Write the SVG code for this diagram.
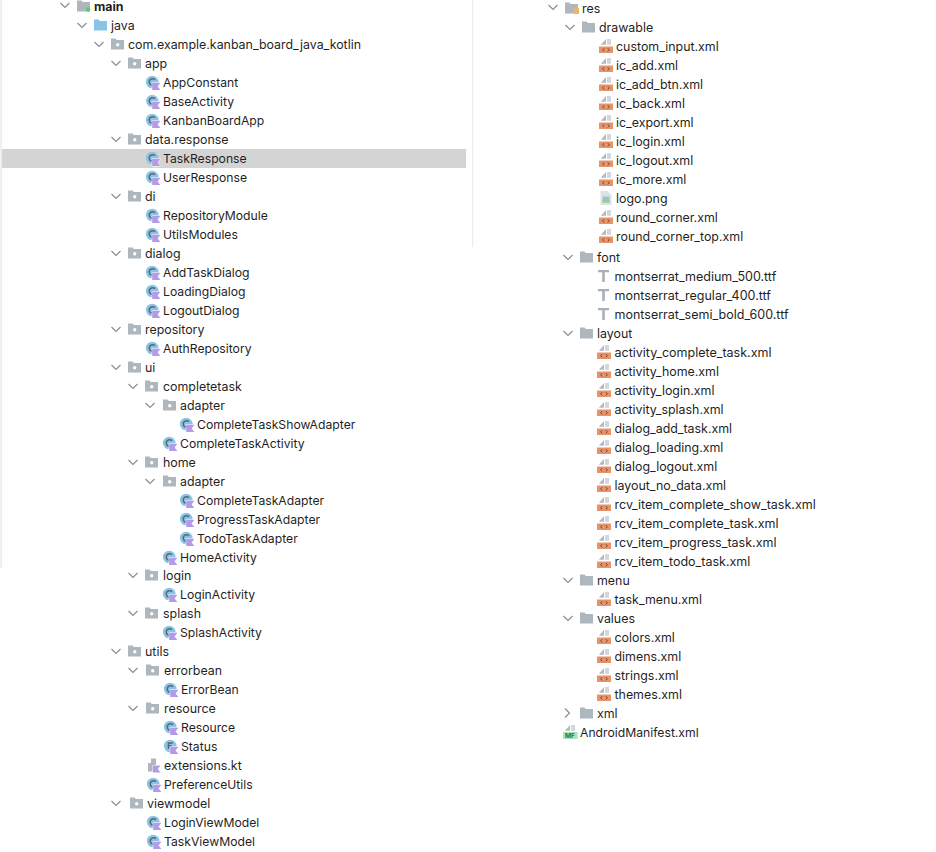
<svg xmlns="http://www.w3.org/2000/svg" width="936" height="852" viewBox="0 0 936 852">
<style>
text{font-family:"Inter","Liberation Sans",sans-serif;font-size:12.4px;fill:#1f1f1f;dominant-baseline:central}
.b{font-weight:700}
.c{font-size:12.2px}
.s{font-size:12.5px}
.mf{font-size:6.5px;font-weight:700;fill:#3c6b4a}
.ch{fill:none;stroke:#868a90;stroke-width:1.1}
</style>
<defs>
<g id="pkg"><path d="M0 -5.5h4.5l1.3 1.5h7.2v9.5h-13z" fill="#aeb6be"/><circle cx="6.7" cy="0.8" r="1.7" fill="#fff"/></g>
<g id="dir"><path d="M0 -5.5h4.5l1.3 1.5h7.2v9.5h-13z" fill="#aeb6be"/></g>
<g id="blue"><path d="M0 -5.5h4.5l1.3 1.5h7.2v9.5h-13z" fill="#89c4e6"/></g>
<g id="k"><path d="M6.2 8V0.8H14.4L11.6 4.4L14.4 8z" fill="#b49bea" stroke="#fff" stroke-width="1" paint-order="stroke"/></g>
<g id="cls"><circle cx="6.2" cy="0" r="6.3" fill="#86c5e8"/><path d="M9 -2.2A3.3 3.3 0 1 0 9 2.2" fill="none" stroke="#5f6670" stroke-width="1.5"/><use href="#k"/></g>
<g id="abs"><circle cx="6.2" cy="0" r="6.3" fill="#86c5e8" stroke="#fff" stroke-dasharray="2 1.5" stroke-width=".8"/><path d="M9 -2.2A3.3 3.3 0 1 0 9 2.2" fill="none" stroke="#5f6670" stroke-width="1.5"/><use href="#k"/></g>
<g id="enu"><circle cx="6.2" cy="0" r="6.3" fill="#86c5e8"/><path d="M9 -3H4.5V3M4.5 0H8" fill="none" stroke="#5f6670" stroke-width="1.5"/><use href="#k"/></g>
<g id="kt"><path d="M1 6.5V-2H4V-6.5H9V6.5z" fill="#aeb6be"/><path d="M6 7.5V0.5H13.5L10.8 4L13.5 7.5z" fill="#b49bea" stroke="#fff" stroke-width="1" paint-order="stroke"/></g>
<g id="xml"><path d="M7 -7V-1.2H1.8z" fill="#b4b9bf"/><rect x="8" y="-7" width="4" height="5.8" fill="#d3d6da"/><rect x="0" y="0.5" width="14" height="6.5" fill="#e8946a"/><path d="M5.2 2.2L3.6 3.8L5.2 5.4M8.8 2.2L10.4 3.8L8.8 5.4" fill="none" stroke="#6a4330" stroke-width="1"/></g>
<g id="png"><path d="M1.5 -7H8.5L12.5 -3V7H1.5z" fill="#dde2e6"/><rect x="3.5" y="-1.5" width="7" height="6" fill="#8fc7d8"/><rect x="3.5" y="2" width="7" height="2.5" fill="#a8c98a"/></g>
<g id="ttf"><path d="M1 -6H12V-3.8H7.8V6H5.2V-3.8H1z" fill="#a9afb6"/></g>
<g id="mfi"><path d="M7 -7V-1.2H1.8z" fill="#b4b9bf"/><rect x="8" y="-7" width="4" height="5.8" fill="#d3d6da"/><rect x="0" y="0" width="14.5" height="7" fill="#a5e8b4"/></g>
<path id="dn" class="ch" d="M-4.5 -2L0 2.5L4.5 -2"/>
<path id="rt" class="ch" d="M-2 -4.5L2.5 0L-2 4.5"/>
</defs>
<g id="backdrop">
<rect x="0" y="0" width="936" height="852" fill="#fff"/>
<rect x="0.5" y="0" width="1.2" height="568" fill="#e4e4e4"/>
<rect x="472" y="0" width="1.2" height="247" fill="#ececec"/>
<rect x="2" y="149" width="464" height="19" fill="#d4d4d4"/>
</g>
<g id="connectors"></g>
<g id="n-main"><use href="#dn" x="65" y="5"/><use href="#dir" x="77" y="6"/><circle cx="88" cy="9.5" r="2.3" fill="#5fc878"/><text class="b" x="94" y="6">main</text></g>
<g id="n-java"><use href="#dn" x="82" y="25"/><use href="#blue" x="94" y="25"/><text x="111" y="25">java</text></g>
<g id="n-com"><use href="#dn" x="99" y="44"/><use href="#pkg" x="111" y="44"/><text x="128" y="44">com.example.kanban_board_java_kotlin</text></g>
<g id="n-app"><use href="#dn" x="116" y="63"/><use href="#pkg" x="128" y="63"/><text x="145" y="63">app</text></g>
<g id="n-appconstant"><use href="#cls" x="146" y="82"/><text class="c" x="163" y="82">AppConstant</text></g>
<g id="n-baseactivity"><use href="#abs" x="146" y="101"/><text class="c" x="163" y="101">BaseActivity</text></g>
<g id="n-kanbanboardapp"><use href="#cls" x="146" y="120"/><text class="c" x="163" y="120">KanbanBoardApp</text></g>
<g id="n-dataresponse"><use href="#dn" x="116" y="139"/><use href="#pkg" x="128" y="139"/><text x="145" y="139">data.response</text></g>
<g id="n-taskresponse"><use href="#cls" x="146" y="158"/><text class="c" x="163" y="158">TaskResponse</text></g>
<g id="n-userresponse"><use href="#cls" x="146" y="177"/><text class="c" x="163" y="177">UserResponse</text></g>
<g id="n-di"><use href="#dn" x="116" y="196"/><use href="#pkg" x="128" y="196"/><text x="145" y="196">di</text></g>
<g id="n-repositorymodule"><use href="#cls" x="146" y="215"/><text class="c" x="163" y="215">RepositoryModule</text></g>
<g id="n-utilsmodules"><use href="#cls" x="146" y="234"/><text class="c" x="163" y="234">UtilsModules</text></g>
<g id="n-dialog"><use href="#dn" x="116" y="253"/><use href="#pkg" x="128" y="253"/><text x="145" y="253">dialog</text></g>
<g id="n-addtaskdialog"><use href="#cls" x="146" y="272"/><text class="c" x="163" y="272">AddTaskDialog</text></g>
<g id="n-loadingdialog"><use href="#cls" x="146" y="291"/><text class="c" x="163" y="291">LoadingDialog</text></g>
<g id="n-logoutdialog"><use href="#cls" x="146" y="310"/><text class="c" x="163" y="310">LogoutDialog</text></g>
<g id="n-repository"><use href="#dn" x="116" y="329"/><use href="#pkg" x="128" y="329"/><text x="145" y="329">repository</text></g>
<g id="n-authrepository"><use href="#cls" x="146" y="348"/><text class="c" x="163" y="348">AuthRepository</text></g>
<g id="n-ui"><use href="#dn" x="116" y="367"/><use href="#pkg" x="128" y="367"/><text x="145" y="367">ui</text></g>
<g id="n-completetask"><use href="#dn" x="133" y="386"/><use href="#pkg" x="145" y="386"/><text x="163" y="386">completetask</text></g>
<g id="n-adapter1"><use href="#dn" x="150" y="405"/><use href="#pkg" x="163" y="405"/><text x="180" y="405">adapter</text></g>
<g id="n-completetaskshowadapter"><use href="#cls" x="180" y="424"/><text class="c" x="197" y="424">CompleteTaskShowAdapter</text></g>
<g id="n-completetaskactivity"><use href="#cls" x="163" y="443"/><text class="c" x="180" y="443">CompleteTaskActivity</text></g>
<g id="n-home"><use href="#dn" x="133" y="462"/><use href="#pkg" x="145" y="462"/><text x="163" y="462">home</text></g>
<g id="n-adapter2"><use href="#dn" x="150" y="481"/><use href="#pkg" x="163" y="481"/><text x="180" y="481">adapter</text></g>
<g id="n-completetaskadapter"><use href="#cls" x="180" y="500"/><text class="c" x="197" y="500">CompleteTaskAdapter</text></g>
<g id="n-progresstaskadapter"><use href="#cls" x="180" y="519"/><text class="c" x="197" y="519">ProgressTaskAdapter</text></g>
<g id="n-todotaskadapter"><use href="#cls" x="180" y="538"/><text class="c" x="197" y="538">TodoTaskAdapter</text></g>
<g id="n-homeactivity"><use href="#cls" x="163" y="557"/><text class="c" x="180" y="557">HomeActivity</text></g>
<g id="n-login"><use href="#dn" x="133" y="575"/><use href="#pkg" x="145" y="575"/><text x="163" y="575">login</text></g>
<g id="n-loginactivity"><use href="#cls" x="163" y="594"/><text class="c" x="180" y="594">LoginActivity</text></g>
<g id="n-splash"><use href="#dn" x="133" y="613"/><use href="#pkg" x="145" y="613"/><text x="163" y="613">splash</text></g>
<g id="n-splashactivity"><use href="#cls" x="163" y="632"/><text class="c" x="180" y="632">SplashActivity</text></g>
<g id="n-utils"><use href="#dn" x="116" y="651"/><use href="#pkg" x="128" y="651"/><text x="145" y="651">utils</text></g>
<g id="n-errorbean"><use href="#dn" x="133" y="670"/><use href="#pkg" x="146" y="670"/><text x="164" y="670">errorbean</text></g>
<g id="n-errorbeanclass"><use href="#cls" x="164" y="689"/><text class="c" x="181" y="689">ErrorBean</text></g>
<g id="n-resource"><use href="#dn" x="133" y="708"/><use href="#pkg" x="146" y="708"/><text x="164" y="708">resource</text></g>
<g id="n-resourceclass"><use href="#cls" x="164" y="727"/><text class="c" x="181" y="727">Resource</text></g>
<g id="n-status"><use href="#enu" x="164" y="746"/><text class="c" x="181" y="746">Status</text></g>
<g id="n-extensions"><use href="#kt" x="147" y="765"/><text x="164" y="765">extensions.kt</text></g>
<g id="n-preferenceutils"><use href="#cls" x="147" y="784"/><text class="c" x="164" y="784">PreferenceUtils</text></g>
<g id="n-viewmodel"><use href="#dn" x="116" y="803"/><use href="#pkg" x="130" y="803"/><text x="147" y="803">viewmodel</text></g>
<g id="n-loginviewmodel"><use href="#cls" x="147" y="822"/><text class="c" x="164" y="822">LoginViewModel</text></g>
<g id="n-taskviewmodel"><use href="#cls" x="147" y="841"/><text class="c" x="164" y="841">TaskViewModel</text></g>
<g id="n-res"><use href="#dn" x="553" y="7"/><use href="#dir" x="565" y="8"/><rect x="574" y="8" width="5" height="6" fill="#e9b76b"/><text x="582" y="8">res</text></g>
<g id="n-drawable"><use href="#dn" x="570" y="27"/><use href="#dir" x="582" y="27"/><text x="599" y="27">drawable</text></g>
<g id="n-custom_input"><use href="#xml" x="599" y="46"/><text x="616" y="46">custom_input.xml</text></g>
<g id="n-ic_add"><use href="#xml" x="599" y="65"/><text x="616" y="65">ic_add.xml</text></g>
<g id="n-ic_add_btn"><use href="#xml" x="599" y="84"/><text x="616" y="84">ic_add_btn.xml</text></g>
<g id="n-ic_back"><use href="#xml" x="599" y="103"/><text x="616" y="103">ic_back.xml</text></g>
<g id="n-ic_export"><use href="#xml" x="599" y="122"/><text x="616" y="122">ic_export.xml</text></g>
<g id="n-ic_login"><use href="#xml" x="599" y="141"/><text x="616" y="141">ic_login.xml</text></g>
<g id="n-ic_logout"><use href="#xml" x="599" y="160"/><text x="616" y="160">ic_logout.xml</text></g>
<g id="n-ic_more"><use href="#xml" x="599" y="179"/><text x="616" y="179">ic_more.xml</text></g>
<g id="n-logo"><use href="#png" x="599" y="198"/><text x="616" y="198">logo.png</text></g>
<g id="n-round_corner"><use href="#xml" x="599" y="217"/><text x="616" y="217">round_corner.xml</text></g>
<g id="n-round_corner_top"><use href="#xml" x="599" y="236"/><text x="616" y="236">round_corner_top.xml</text></g>
<g id="n-font"><use href="#dn" x="568" y="257"/><use href="#dir" x="580" y="257"/><text x="597" y="257">font</text></g>
<g id="n-mont_medium"><use href="#ttf" x="597" y="276"/><text class="s" x="614.500" y="276">montserrat_medium_500.ttf</text></g>
<g id="n-mont_regular"><use href="#ttf" x="597" y="295"/><text class="s" x="614.500" y="295">montserrat_regular_400.ttf</text></g>
<g id="n-mont_semi"><use href="#ttf" x="597" y="314"/><text class="s" x="614.500" y="314">montserrat_semi_bold_600.ttf</text></g>
<g id="n-layout"><use href="#dn" x="568" y="333"/><use href="#dir" x="580" y="333"/><text x="597" y="333">layout</text></g>
<g id="n-activity_complete_task"><use href="#xml" x="597" y="352"/><text class="s" x="614.500" y="352">activity_complete_task.xml</text></g>
<g id="n-activity_home"><use href="#xml" x="597" y="371"/><text x="614.500" y="371">activity_home.xml</text></g>
<g id="n-activity_login"><use href="#xml" x="597" y="390"/><text x="614.500" y="390">activity_login.xml</text></g>
<g id="n-activity_splash"><use href="#xml" x="597" y="409"/><text x="614.500" y="409">activity_splash.xml</text></g>
<g id="n-dialog_add_task"><use href="#xml" x="597" y="428"/><text x="614.500" y="428">dialog_add_task.xml</text></g>
<g id="n-dialog_loading"><use href="#xml" x="597" y="447"/><text x="614.500" y="447">dialog_loading.xml</text></g>
<g id="n-dialog_logout"><use href="#xml" x="597" y="466"/><text x="614.500" y="466">dialog_logout.xml</text></g>
<g id="n-layout_no_data"><use href="#xml" x="597" y="485"/><text x="614.500" y="485">layout_no_data.xml</text></g>
<g id="n-rcv_complete_show"><use href="#xml" x="597" y="504"/><text class="s" x="614.500" y="504">rcv_item_complete_show_task.xml</text></g>
<g id="n-rcv_complete"><use href="#xml" x="597" y="523"/><text class="s" x="614.500" y="523">rcv_item_complete_task.xml</text></g>
<g id="n-rcv_progress"><use href="#xml" x="597" y="542"/><text class="s" x="614.500" y="542">rcv_item_progress_task.xml</text></g>
<g id="n-rcv_todo"><use href="#xml" x="597" y="561"/><text class="s" x="614.500" y="561">rcv_item_todo_task.xml</text></g>
<g id="n-menu"><use href="#dn" x="568" y="580"/><use href="#dir" x="580" y="580"/><text x="597" y="580">menu</text></g>
<g id="n-task_menu"><use href="#xml" x="597" y="599"/><text x="614.500" y="599">task_menu.xml</text></g>
<g id="n-values"><use href="#dn" x="568" y="618"/><use href="#dir" x="580" y="618"/><text x="597" y="618">values</text></g>
<g id="n-colors"><use href="#xml" x="597" y="637"/><text x="614.500" y="637">colors.xml</text></g>
<g id="n-dimens"><use href="#xml" x="597" y="656"/><text x="614.500" y="656">dimens.xml</text></g>
<g id="n-strings"><use href="#xml" x="597" y="675"/><text x="614.500" y="675">strings.xml</text></g>
<g id="n-themes"><use href="#xml" x="597" y="694"/><text x="614.500" y="694">themes.xml</text></g>
<g id="n-xml"><use href="#rt" x="567" y="713"/><use href="#dir" x="580" y="713"/><text x="597" y="713">xml</text></g>
<g id="n-manifest"><use href="#mfi" x="563" y="732"/><text class="mf" x="565" y="736">MF</text><text class="c" x="580" y="732">AndroidManifest.xml</text></g>
</svg>
